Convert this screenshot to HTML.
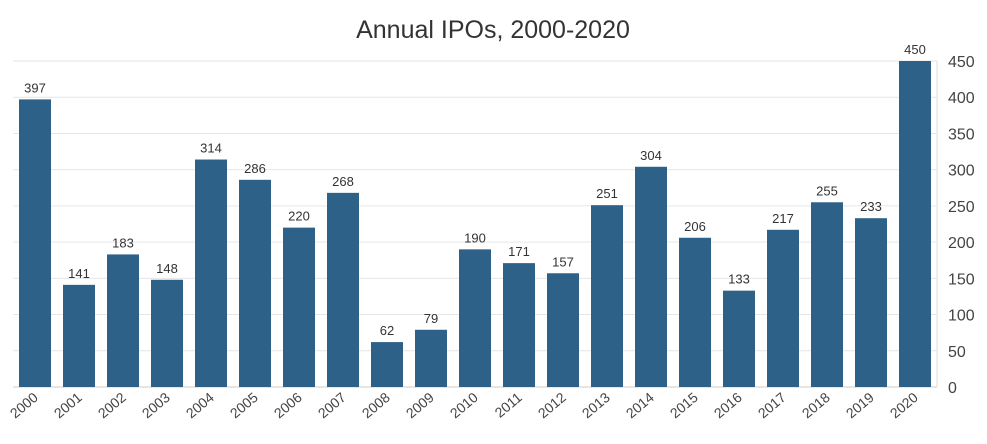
<!DOCTYPE html>
<html><head><meta charset="utf-8"><style>
body{margin:0;background:#fff;}
svg text{font-family:"Liberation Sans",sans-serif;}
</style></head><body>
<svg id="chart" width="987" height="439" viewBox="0 0 987 439">
<text x="493" y="38" text-anchor="middle" font-size="25" fill="#333">Annual IPOs, 2000-2020</text>
<g id="grid"></g><g id="bars"></g><g id="labels"></g><g id="yaxis"></g><g id="xaxis"></g>
</svg>
<script>
const years=["2000","2001","2002","2003","2004","2005","2006","2007","2008","2009","2010","2011","2012","2013","2014","2015","2016","2017","2018","2019","2020"];
const ipos=[397,141,183,148,314,286,220,268,62,79,190,171,157,251,304,206,133,217,255,233,450];
const yTicks=[0,50,100,150,200,250,300,350,400,450];
const L=13,R=937,T=61,B=387,max=450;
const band=(R-L)/years.length;
const y=v=>B-(v/max)*(B-T);
const x=i=>L+i*band;
const NS="http://www.w3.org/2000/svg";
function mk(t,a,p){const e=document.createElementNS(NS,t);for(const k in a)e.setAttribute(k,a[k]);p.appendChild(e);return e;}
const g=document.getElementById('grid'),bs=document.getElementById('bars'),lb=document.getElementById('labels'),ya=document.getElementById('yaxis'),xa=document.getElementById('xaxis');
yTicks.forEach(t=>{
 const l=mk('line',{x1:L,x2:R,y1:y(t),y2:y(t),stroke:t===0?'#ccc':'#e6e6e6','stroke-width':1},g);
 
 
 const tx=mk('text',{x:948,y:y(t)+6,'font-size':16,fill:'#444'},ya);
 tx.textContent=t;
 
 
});
const ax=mk('line',{x1:R,x2:R,y1:T,y2:B,stroke:'#ddd'},g);


years.forEach((yr,i)=>{
 const bx=x(i)+6,bw=band-12;
 const r=mk('rect',{x:bx,y:y(ipos[i]),width:bw,height:B-y(ipos[i]),fill:'#2e6188'},bs);
 
 
 const t=mk('text',{x:bx+bw/2,y:y(ipos[i])-7,'text-anchor':'middle','font-size':13,fill:'#333'},lb);
 t.textContent=ipos[i];
 
 
 const cx=bx+bw/2+4,cy=B+12;
 const xl=mk('text',{x:cx,y:cy,'text-anchor':'end','font-size':14,fill:'#444',transform:`rotate(-40 ${cx} ${cy})`},xa);
 xl.textContent=yr;
 
 
});
</script>
</body></html>
